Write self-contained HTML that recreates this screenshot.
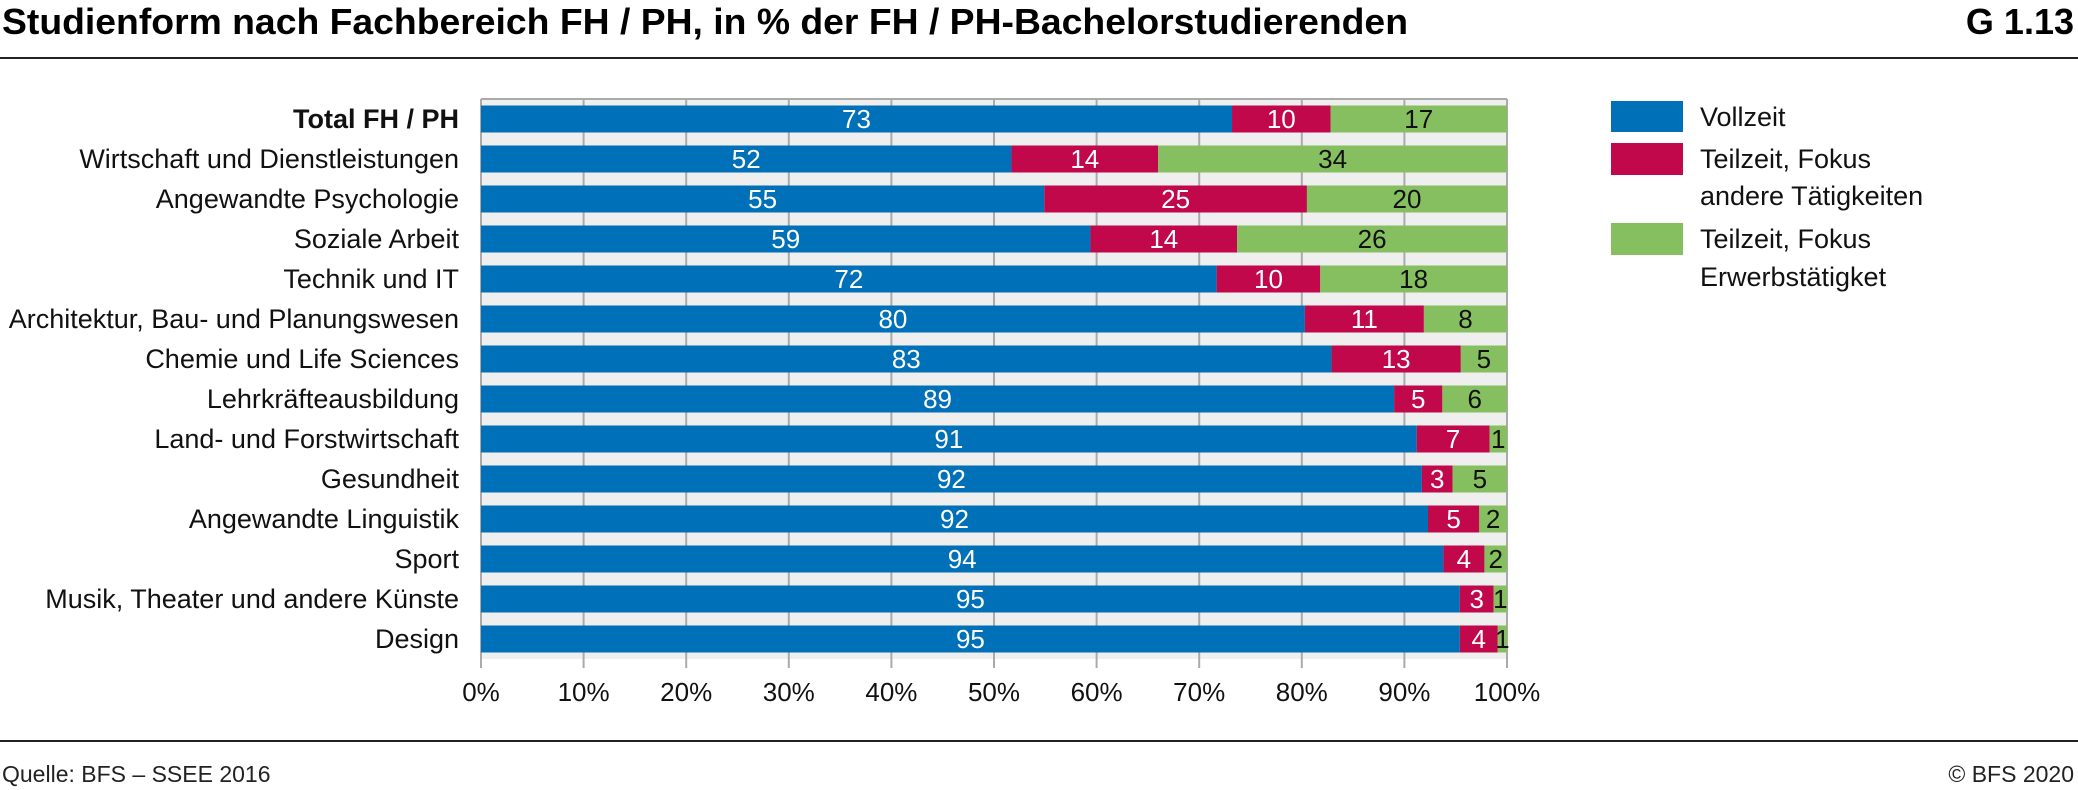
<!DOCTYPE html>
<html><head><meta charset="utf-8"><style>body{margin:0;background:#fff}svg{display:block}</style></head>
<body>
<svg width="2078" height="790" viewBox="0 0 2078 790" xmlns="http://www.w3.org/2000/svg" font-family="Liberation Sans Narrow, Liberation Sans, sans-serif">
<text x="2" y="34" font-size="36" font-weight="bold" textLength="1406" lengthAdjust="spacingAndGlyphs">Studienform nach Fachbereich FH / PH, in % der FH / PH-Bachelorstudierenden</text>
<text x="2074" y="34" font-size="36" font-weight="bold" text-anchor="end">G 1.13</text>
<rect x="0" y="57" width="2078" height="2" fill="#222"/>
<rect x="481" y="99" width="1026" height="560" fill="#efefef"/>
<g stroke="#aaa" stroke-width="2" id="grid"></g>
<g id="bars"></g>
<g id="labels" font-size="27" text-anchor="end" fill="#111"></g>
<g id="ticks" font-size="26" text-anchor="middle" fill="#111"></g>
<rect x="1611" y="101" width="72" height="31" fill="#0070b8"/>
<rect x="1611" y="143" width="72" height="32" fill="#c1084a"/>
<rect x="1611" y="223" width="72" height="32" fill="#86bf60"/>
<g font-size="27" fill="#111">
<text x="1700" y="126">Vollzeit</text>
<text x="1700" y="168">Teilzeit, Fokus</text>
<text x="1700" y="205">andere Tätigkeiten</text>
<text x="1700" y="248">Teilzeit, Fokus</text>
<text x="1700" y="286">Erwerbstätigket</text>
</g>
<rect x="0" y="740" width="2078" height="2" fill="#222"/>
<text x="2" y="782" font-size="23" fill="#222">Quelle: BFS – SSEE 2016</text>
<text x="2074" y="782" font-size="23" fill="#222" text-anchor="end">© BFS 2020</text>
<script>
const ns="http://www.w3.org/2000/svg";
function el(p,t,a,txt){const e=document.createElementNS(ns,t);for(const k in a)e.setAttribute(k,a[k]);if(txt!==undefined)e.textContent=txt;p.appendChild(e);return e;}
const L=481,W=1026;
const g=document.getElementById('grid');
for(let i=0;i<=10;i++){const x=L+W*i/10;el(g,'line',{x1:x,x2:x,y1:99,y2:668});
 el(document.getElementById('ticks'),'text',{x:x,y:701},(i*10)+'%');}
el(g,'line',{x1:L,x2:L+W,y1:99,y2:99});
const data=[["Total FH / PH",73,10,17,1],["Wirtschaft und Dienstleistungen",52,14,34],["Angewandte Psychologie",55,25,20],["Soziale Arbeit",59,14,26],["Technik und IT",72,10,18],["Architektur, Bau- und Planungswesen",80,11,8],["Chemie und Life Sciences",83,13,5],["Lehrkräfteausbildung",89,5,6],["Land- und Forstwirtschaft",91,7,1],["Gesundheit",92,3,5],["Angewandte Linguistik",92,5,2],["Sport",94,4,2],["Musik, Theater und andere Künste",95,3,1],["Design",95,4,1]];
const exact=[[73.2,9.6,17.2],[51.7,14.3,34],[54.9,25.6,19.5],[59.4,14.3,26.3],[71.7,10.1,18.2],[80.3,11.6,8.1],[82.9,12.6,4.5],[89,4.7,6.3],[91.2,7.1,1.7],[91.7,3,5.3],[92.3,5,2.7],[93.8,4,2.2],[95.4,3.3,1.3],[95.4,3.7,0.9]];
const cols=['#0070b8','#c1084a','#86bf60'],tc=['#fff','#fff','#111'];
const b=document.getElementById('bars'),lb=document.getElementById('labels');
data.forEach((d,i)=>{const cy=119+i*40;let x=L;const ex=exact[i];const s=ex[0]+ex[1]+ex[2];
 for(let j=0;j<3;j++){const w=W*ex[j]/s;el(b,'rect',{x:x,y:cy-13.5,width:w,height:27,fill:cols[j]});
  el(b,'text',{x:x+w/2,y:cy+9,'font-size':26,'text-anchor':'middle',fill:tc[j]},d[j+1]);x+=w;}
 el(lb,'text',{x:459,y:cy+9,'font-weight':d[4]?'bold':'normal'},d[0]);});
</script>
</svg>
</body></html>
